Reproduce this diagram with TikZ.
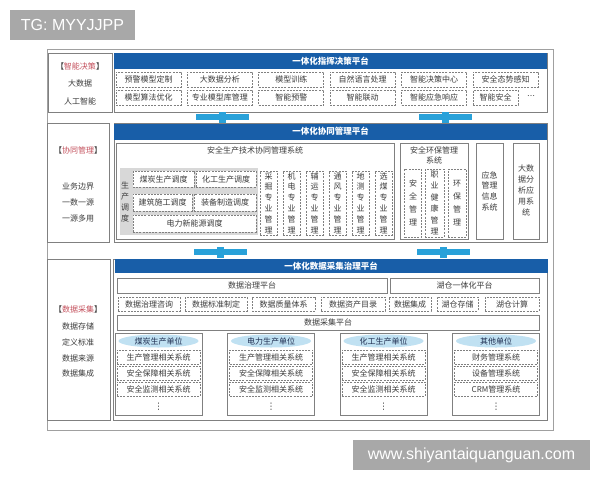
\documentclass[tikz,border=0pt]{standalone}
\usepackage{fontspec}
\setmainfont{Noto Sans CJK SC}
\newfontfamily\wmfont{Liberation Sans}
\newfontfamily\symfont{DejaVu Sans}
\usetikzlibrary{shapes.geometric}
\definecolor{barblue}{RGB}{24,94,168}
\definecolor{couple}{RGB}{41,161,217}
\definecolor{headblue}{RGB}{192,225,242}
\definecolor{graybg}{RGB}{216,216,216}
\definecolor{framegray}{RGB}{128,128,128}
\definecolor{outgray}{RGB}{160,160,160}
\definecolor{hred}{RGB}{196,80,92}
\definecolor{txtgray}{RGB}{60,60,60}
\definecolor{markgray}{RGB}{168,168,168}
\definecolor{headtxt}{RGB}{30,45,80}
\begin{document}
\begin{tikzpicture}[x=1pt, y=-1pt, font=\fontsize{8}{10}\selectfont, text=txtgray,
	frame/.style={draw=framegray, line width=0.7pt, fill=white},
	solidbox/.style={draw=framegray, line width=0.7pt, fill=white, inner sep=0pt},
	dashbox/.style={draw=framegray, line width=0.7pt, dash pattern=on 2pt off 1.2pt, fill=white, inner sep=0pt},
	platbar/.style={fill=barblue, text=white, font=\fontsize{8.5}{10}\selectfont\bfseries, inner sep=0pt, minimum width=433pt},
	vtext/.style={align=center, inner sep=0pt},
	unithead/.style={ellipse, fill=headblue, text=headtxt, inner sep=0pt, minimum width=80pt, minimum height=13pt},
	markbox/.style={fill=markgray, text=white, inner sep=0pt, font=\wmfont\fontsize{16}{18}\selectfont}]
	\useasboundingbox (0,0) rectangle (600,480);
	\fill[white] (0,0) rectangle (600,480);
	\node[markbox, minimum width=125pt, minimum height=30pt] (tg) at (72.5,25) {TG: MYYJJPP};
	\draw[outgray, line width=0.8pt] (47,49) rectangle (553,430);
	% intelligent decision layer
	\draw[frame] (48,53) rectangle (112,112);
	\node (l1a) at (80,66) {【\textcolor{hred}{智能决策}】};
	\node (l1b) at (80,83) {大数据};
	\node (l1c) at (80,101) {人工智能};
	\draw[frame] (114,53) rectangle (547,112);
	\node[platbar, minimum height=16pt] (p1) at (330.5,61) {一体化指挥决策平台};
	\foreach \t [count=\i from 0] in {预警模型定制,大数据分析,模型训练,自然语言处理,智能决策中心,安全态势感知}
		\node[dashbox, minimum width=65pt, minimum height=15pt] (da\i) at ({148.5+71.4*\i},79.5) {\t};
	\foreach \t [count=\i from 0] in {模型算法优化,专业模型库管理,智能预警,智能联动,智能应急响应}
		\node[dashbox, minimum width=65pt, minimum height=15pt] (db\i) at ({148.5+71.4*\i},97.5) {\t};
	\node[dashbox, minimum width=45pt, minimum height=15pt] (db5) at (495.5,97.5) {智能安全};
	\node (dots1) at (531,97) {\symfont ⋯};
	% couplers
	\foreach \cx/\cy in {222.5/117, 445.5/117, 220/252, 443/252}{
		\fill[couple] (\cx-26.5,\cy-3) rectangle (\cx+26.5,\cy+3);
		\fill[couple] (\cx-3.5,\cy-5.5) rectangle (\cx+3.5,\cy+5.5);
	}
	% cooperative management layer
	\draw[frame] (47,123) rectangle (109,242);
	\node (l2a) at (78,150) {【\textcolor{hred}{协同管理}】};
	\node (l2b) at (78,186) {业务边界};
	\node (l2c) at (78,202) {一数一源};
	\node (l2d) at (78,218) {一源多用};
	\draw[frame] (114,123) rectangle (547,242);
	\node[platbar, minimum height=16pt] (p2) at (330.5,131.5) {一体化协同管理平台};
	\draw[frame] (116,143) rectangle (394,239);
	\node (sysa) at (255,150) {安全生产技术协同管理系统};
	\fill[graybg] (120,168) rectangle (258,235);
	\node[vtext, font=\fontsize{8}{11}\selectfont] (sched) at (125,202) {生\\产\\调\\度};
	\node[dashbox, minimum width=61pt, minimum height=16pt] (sc1) at (163.5,179) {煤炭生产调度};
	\node[dashbox, minimum width=60pt, minimum height=16pt] (sc2) at (226,179) {化工生产调度};
	\node[dashbox, minimum width=59pt, minimum height=17pt] (sc3) at (162.5,202.5) {建筑施工调度};
	\node[dashbox, minimum width=62pt, minimum height=17pt] (sc4) at (225,202.5) {装备制造调度};
	\node[dashbox, minimum width=123pt, minimum height=17pt] (sc5) at (194.5,223.5) {电力新能源调度};
	\foreach \t [count=\i from 0] in {采\\掘\\专\\业\\管\\理,机\\电\\专\\业\\管\\理,辅\\运\\专\\业\\管\\理,通\\风\\专\\业\\管\\理,地\\测\\专\\业\\管\\理,选\\煤\\专\\业\\管\\理}
		\node[dashbox, vtext, font=\fontsize{8}{10.8}\selectfont, minimum width=17pt, minimum height=64pt] (pm\i) at ({268.5+23*\i},203) {\t};
	\draw[frame] (400,143) rectangle (468,239);
	\node[vtext] (sysb) at (434,155) {安全环保管理\\系统};
	\node[dashbox, vtext, font=\fontsize{8}{13}\selectfont, minimum width=17pt, minimum height=68pt] (eh1) at (413,203) {安\\全\\管\\理};
	\node[dashbox, vtext, font=\fontsize{8}{11.5}\selectfont, minimum width=19pt, minimum height=68pt] (eh2) at (434.5,203) {职\\业\\健\\康\\管\\理};
	\node[dashbox, vtext, font=\fontsize{8}{13}\selectfont, minimum width=18pt, minimum height=68pt] (eh3) at (457,203) {环\\保\\管\\理};
	\draw[frame] (476,143) rectangle (503,239);
	\node[vtext, font=\fontsize{8}{10.7}\selectfont] (emg) at (489.5,191) {应急\\管理\\信息\\系统};
	\draw[frame] (513,143) rectangle (539,239);
	\node[vtext, font=\fontsize{8}{11}\selectfont] (bda) at (526,190) {大数\\据分\\析应\\用系\\统};
	% data collection layer
	\draw[frame] (47,259) rectangle (110,420);
	\node (l3a) at (78,309) {【\textcolor{hred}{数据采集}】};
	\node (l3b) at (78,326) {数据存储};
	\node (l3c) at (78,342) {定义标准};
	\node (l3d) at (78,358) {数据来源};
	\node (l3e) at (78,373) {数据集成};
	\draw[frame] (113,259) rectangle (547,420);
	\node[platbar, minimum height=14pt] (p3) at (331,266) {一体化数据采集治理平台};
	\node[solidbox, minimum width=270pt, minimum height=15pt] (gov) at (252,285.5) {数据治理平台};
	\node[solidbox, minimum width=149pt, minimum height=15pt] (lake) at (464.5,285.5) {湖仓一体化平台};
	\foreach \cx/\w/\t [count=\i] in {149/62/数据治理咨询,216/62/数据标准制定,283.5/63/数据质量体系,353/64/数据资产目录,410/42/数据集成,457.5/41/湖仓存储,512/54/湖仓计算}
		\node[dashbox, minimum width=\w pt, minimum height=14pt] (dg\i) at (\cx,304) {\t};
	\node[solidbox, minimum width=422pt, minimum height=15pt] (coll) at (328,322.5) {数据采集平台};
	\foreach \ux/\head/\sa/\sb/\sc [count=\i] in {158.5/煤炭生产单位/生产管理相关系统/安全保障相关系统/安全监测相关系统,271/电力生产单位/生产管理相关系统/安全保障相关系统/安全监测相关系统,383.5/化工生产单位/生产管理相关系统/安全保障相关系统/安全监测相关系统,496/其他单位/财务管理系统/设备管理系统/CRM管理系统}{
		\node[solidbox, minimum width=87pt, minimum height=82pt] (u\i) at (\ux,374) {};
		\node[unithead] (uh\i) at (\ux,341) {\head};
		\node[dashbox, minimum width=83pt, minimum height=14pt] (ua\i) at (\ux,357) {\sa};
		\node[dashbox, minimum width=83pt, minimum height=14pt] (ub\i) at (\ux,373) {\sb};
		\node[dashbox, minimum width=83pt, minimum height=14pt] (uc\i) at (\ux,389) {\sc};
		\node[inner sep=0pt, font=\symfont\fontsize{9}{10}\selectfont] (uv\i) at (\ux,406.5) {⋮};
	}
	\node[markbox, minimum width=237pt, minimum height=30pt] (wm) at (471.5,455) {www.shiyantaiquanguan.com};
\end{tikzpicture}
\end{document}
